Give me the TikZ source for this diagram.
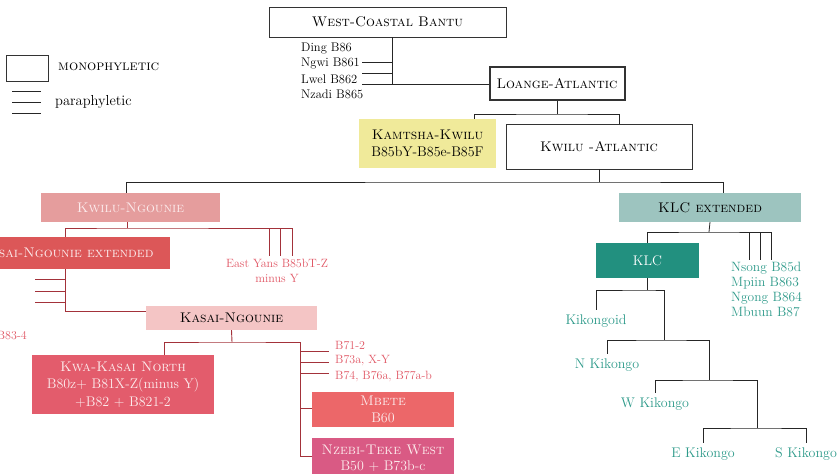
\documentclass[tikz,border=0pt]{standalone}
\usetikzlibrary{positioning,calc}
\usepackage{xcolor}

\definecolor{kamtsha}{HTML}{F0EA9A}
\definecolor{kwngou}{HTML}{E59D9D}
\definecolor{kasext}{HTML}{DC5758}
\definecolor{kasai}{HTML}{F4C5C5}
\definecolor{kwakasai}{HTML}{E35C6C}
\definecolor{mbete}{HTML}{EC6769}
\definecolor{nzebi}{HTML}{D95A84}
\definecolor{klcext}{HTML}{9DC4BF}
\definecolor{klcfill}{HTML}{22907F}
\definecolor{redtext}{HTML}{E05664}
\definecolor{tealtext}{HTML}{2E9A8A}
\definecolor{redline}{HTML}{A3323A}
\definecolor{paletext}{HTML}{FCEBEC}

\newcommand\boxfont{\fontsize{14}{17.5}\selectfont}
\newcommand\lblfont{\fontsize{12.5}{15}\selectfont}
\newcommand\redfont{\fontsize{12}{15}\selectfont}
\newcommand\tealfont{\fontsize{13.5}{15}\selectfont}
\newcommand\kikfont{\fontsize{14}{15}\selectfont}
\newcommand\legfont{\fontsize{14.5}{15}\selectfont}

\tikzset{
  clade/.style={inner sep=0pt, align=center, font=\boxfont},
  mono/.style={clade, draw=black!80, fill=white, line width=0.8pt},
  lbl/.style={inner sep=0pt, align=left, font=\lblfont},
  redlbl/.style={lbl, text=redtext, font=\redfont},
  kik/.style={lbl, text=tealtext, font=\kikfont, outer ysep=5pt},
  tree/.style={draw=black!85, line width=0.8pt},
  redtree/.style={draw=redline, line width=0.9pt},
}

\begin{document}
\begin{tikzpicture}[x=1pt,y=-1pt]
\useasboundingbox (0,0) rectangle (839,474);

% legend
\node[mono, minimum width=42, minimum height=26] (legbox) at (27,68) {};
\node[lbl, font=\legfont, anchor=west] (legmono) at (58,67) {\textsc{monophyletic}};
\foreach \y in {91,102,113}
  \draw[tree] (12,\y) -- (41,\y);
\node[lbl, font=\legfont, anchor=west] (legpara) at (55,102) {paraphyletic};

% top of the tree
\node[mono, minimum width=237, minimum height=30] (wcb) at (387.5,22) {\textsc{West-Coastal Bantu}};
\node[mono, line width=2pt, minimum width=135, minimum height=33] (la) at (557,83.5) {\textsc{Loange-Atlantic}};
\node[lbl, anchor=west] (ding) at (301,49) {Ding B86};
\node[lbl, anchor=west] (ngwi) at (301,64) {Ngwi B861};
\node[lbl, anchor=west] (lwel) at (301,79) {Lwel B862};
\node[lbl, anchor=west] (nzadi) at (301,94) {Nzadi B865};
\coordinate (wj) at (392,84);
\draw[tree] (wcb.south -| wj) -- (wj) -- (la.west |- wj);
\foreach \y in {62,73,84}
  \draw[tree] (362,\y) -- (wj |- 0,\y);

\node[clade, fill=kamtsha, minimum width=137, minimum height=49] (kk) at (427.5,143.5)
  {\textsc{Kamtsha-Kwilu}\\B85bY-B85e-B85F};
\node[mono, minimum width=186, minimum height=45] (ka) at (599,146.5) {\textsc{Kwilu -Atlantic}};
\coordinate (lj) at (557,114);
\draw[tree] (la.south) -- (lj);
\draw[tree] ($(kk.north)+(46.5,0)$) |- (lj) -| ($(ka.north)+(20,0)$);

% main split
\node[clade, fill=kwngou, text=paletext, minimum width=179, minimum height=29] (kn) at (130.5,207.5) {\textsc{Kwilu-Ngounie}};
\node[clade, fill=klcext, minimum width=182, minimum height=29] (klce) at (710,207.5) {\textsc{KLC extended}};
\coordinate (aj) at (599,182);
\draw[tree] (ka.south) -- (aj);
\draw[tree] ($(kn.north)+(-4.5,0)$) |- (aj) -| ($(klce.north)+(13,0)$);

% Kwilu-Ngounie
\node[clade, fill=kasext, text=paletext, minimum width=208, minimum height=32] (kne) at (66,253) {\textsc{Kasai-Ngounie extended}};
\node[redlbl, align=center] (eyans) at (277,270.5) {East Yans B85bT-Z\\minus Y};
\coordinate (nj) at (127,228);
\draw[redtree] ($(kn.south)+(-3.5,0)$) -- (nj);
\draw[redtree] (kne.north -| 65,0) |- (nj) -- (292,228);
\foreach \x in {269,280,292}
  \draw[redtree] (\x,228) -- (\x,256);

\node[clade, fill=kasai, minimum width=171, minimum height=24] (ks) at (231.5,318) {\textsc{Kasai-Ngounie}};
\draw[redtree] (kne.south -| 65,0) |- ($(ks.west)+(0,-7)$);
\foreach \y in {279,291,302}
  \draw[redtree] (35,\y) -- (65,\y);
\node[redlbl, anchor=east] (b83) at (27,336) {B83-4};

% Kasai-Ngounie
\node[clade, fill=kwakasai, text=paletext, minimum width=182, minimum height=59] (kkn) at (123,384.5)
  {\textsc{Kwa-Kasai North}\\B80z+ B81X-Z(minus Y)\\+B82 + B821-2};
\node[clade, fill=mbete, text=paletext, minimum width=142, minimum height=35] (mb) at (383,409.5)
  {\textsc{Mbete}\\B60};
\node[clade, fill=nzebi, text=paletext, minimum width=142, minimum height=41, anchor=north] (nz) at (383,438)
  {\textsc{Nzebi-Teke West}\\[-1.5pt]B50 + B73b-c};
\node[redlbl, anchor=west] (b71) at (335,346) {B71-2};
\node[redlbl, anchor=west] (b73) at (335,361) {B73a, X-Y};
\node[redlbl, anchor=west] (b74) at (335,376) {B74, B76a, B77a-b};
\coordinate (sj) at (232,342);
\coordinate (vj) at (300,342);
\draw[redtree] (ks.south) -- (sj);
\draw[redtree] ($(kkn.north)+(41,0)$) |- (sj) -- (vj) |- (nz.west |- 0,456);
\draw[redtree] (vj |- 0,408) -- (mb.west |- 0,408);
\foreach \y in {351,362,373}
  \draw[redtree] (300,\y) -- (329,\y);
% box runs past the bottom edge
\fill[nzebi] (nz.south west) rectangle ($(nz.south east)+(0,6)$);

% KLC extended
\node[clade, fill=klcfill, text=white, minimum width=103, minimum height=35] (klc) at (647.5,260.5) {KLC};
\node[lbl, font=\tealfont, anchor=north west, text=tealtext] (nsong) at (731,262)
  {Nsong B85d\\Mpiin B863\\Ngong B864\\Mbuun B87};
\coordinate (ej) at (709,232);
\draw[tree] (klce.south |- 0,222) -- (ej);
\draw[tree] (klc.north) |- (ej) -- (771,232);
\foreach \x in {749,760,771}
  \draw[tree] (\x,232) -- (\x,260);

% KLC
\node[kik] (kik) at (596,321) {Kikongoid};
\node[kik] (nkik) at (607,365) {N Kikongo};
\node[kik] (wkik) at (655,404) {W Kikongo};
\node[kik] (ekik) at (703,454) {E Kikongo};
\node[kik] (skik) at (806,454) {S Kikongo};
\coordinate (c1) at (647.5,290);
\coordinate (c2) at (664,340);
\coordinate (c3) at (709,380);
\coordinate (c4) at (757,428);
\draw[tree] (klc.south) -- (c1);
\draw[tree] (kik.north) |- (c1) -| (c2);
\draw[tree] (nkik.north) |- (c2) -| (c3);
\draw[tree] (wkik.north) |- (c3) -| (c4);
\draw[tree] (ekik.north) |- (c4) -| (skik.north);

\end{tikzpicture}
\end{document}
